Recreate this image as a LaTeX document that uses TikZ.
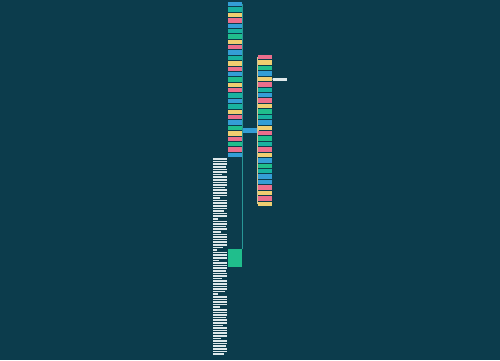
\documentclass[tikz,border=0pt]{standalone}
\usetikzlibrary{positioning}

\definecolor{bgc}{RGB}{12,60,76}
\definecolor{cb}{RGB}{52,158,214}
\definecolor{ct}{RGB}{24,178,160}
\definecolor{cg}{RGB}{32,190,140}
\definecolor{cy}{RGB}{240,206,112}
\definecolor{cp}{RGB}{236,110,140}
\definecolor{cw}{RGB}{222,232,234}
\definecolor{lnk}{RGB}{40,150,150}
\definecolor{lnk2}{RGB}{210,196,150}

\begin{document}
\begin{tikzpicture}[x=1pt,y=-1pt,
  box/.style={minimum width=14pt,minimum height=4.4pt,inner sep=0pt,outer sep=0pt},
  row/.style={anchor=west,minimum height=1.6pt,inner sep=0pt,outer sep=0pt,fill=cw},
  link/.style={draw=lnk,line width=0.6pt}]
  \fill[bgc] (0,0) rectangle (500,360);

  % centre
  \node[box,fill=cb,minimum width=16pt,minimum height=5pt] (root) at (250,130.5) {};

  % left column
  \foreach \c [count=\i] in {cb,ct,cy,cp,cb,ct,cg,cy,cp,cb,ct,cy,cp,cb,cg,cy,cp,ct,cb,ct,cy,cp,cb,cg,cy,cp,cg,cp,cb}
    \node[box,fill=\c] (l\i) at (235,{4.2+(\i-1)*5.38}) {};
  \foreach \i in {1,...,29}
    \draw[link] (root.west) -| (l\i.east);

  % right column
  \foreach \c [count=\i] in {cp,cy,cg,cb,cy,cp,ct,cb,cp,cy,cg,ct,cb,cy,cp,cg,ct,cp,cy,cb,cg,ct,cb,cb,cp,cy,cp,cy}
    \node[box,minimum width=14.5pt,fill=\c] (r\i) at (264.75,{57.2+(\i-1)*5.43}) {};
  \foreach \i in {1,...,28}
    \draw[link,draw=lnk2] (root.east) -| (r\i.west);

  \node[box,fill=cw,minimum height=3pt] (w) at (280,79.4) {};
  \draw[link,draw=cw] (r5.east) -- (w.west);

  % lower branch
  \node[box,fill=cg,minimum height=18pt] (g) at (235,258) {};
  \draw[link] (root.west) -| (g.north east);

  \foreach \w [count=\i] in {14,14,14,13,14,14,9,14,14,14,14,12,14,14,14,7,14,14,14,14,11,14,14,5,14,14,13,14,8,14,14,14,14,14,10,4,14,14,14,6,14,14,14,13,14,14,9,14,14,14,14,12,5,14,14,14,14,7,14,14,14,13,14,14,10,14,14,14,14,8,14,14,13,14,14,11}
    \node[row,minimum width=\w pt] (n\i) at (213,{159+(\i-1)*2.6}) {};
\end{tikzpicture}
\end{document}
